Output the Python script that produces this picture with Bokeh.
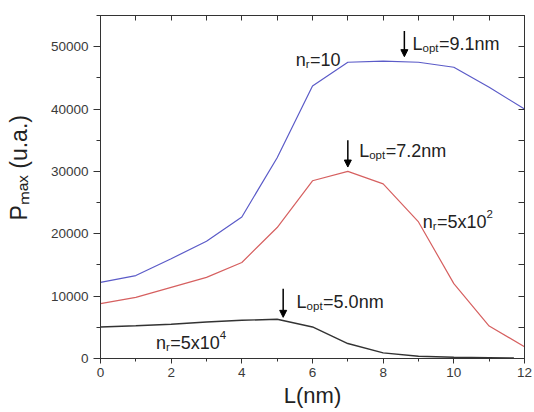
import math
from bokeh.plotting import figure
from bokeh.models import (Range1d, LinearAxis, SingleIntervalTicker, FixedTicker,
                          Label, Arrow, NormalHead)
from bokeh.embed import file_html
from bokeh.resources import INLINE

# ---------------- data ----------------
L_values = [0, 1, 2, 3, 4, 5, 6, 7, 8, 9, 10, 11, 12]
P_nr10 = [12200, 13300, 16000, 18800, 22700, 32200, 43700, 47500, 47700, 47500, 46700, 43500, 40000]
P_nr5e2 = [8800, 9800, 11400, 13000, 15400, 21000, 28500, 30000, 28000, 21900, 12000, 5200, 1900]
L_nr5e4 = [0, 1, 2, 3, 4, 5, 6, 7, 8, 9, 10, 11, 11.7]
P_nr5e4 = [5060, 5250, 5500, 5850, 6130, 6290, 5060, 2400, 900, 370, 200, 130, 100]

x_tick_labels = [0, 2, 4, 6, 8, 10, 12]
y_tick_labels = [0, 10000, 20000, 30000, 40000, 50000]
top_ticks = [0, 1, 2, 3, 4, 5, 6, 7, 8, 9, 10, 11, 12]
right_ticks = [0, 5000, 10000, 15000, 20000, 25000, 30000, 35000, 40000, 45000, 50000, 55000]

# optimum-length arrows (L, top, tip)
arrow_L = [8.6, 7.0, 5.17]
arrow_top = [52500, 35000, 11200]
arrow_tip = [48400, 30700, 6600]

FONT = "Liberation Sans"
W = {'n': .556, 'L': .556, 'r': .333, 'o': .556, 'p': .556, 't': .278, '=': .584,
     '.': .278, 'x': .5, 'm': .833, 'a': .556, 'u': .556, '(': .333, ')': .333,
     ' ': .278, 'P': .667}


def tw(s, size):
    return sum(W.get(c, .556) for c in s) * size


p = figure(width=534, height=412, output_backend="svg", toolbar_location=None,
           x_range=Range1d(0, 12), y_range=Range1d(0, 55000),
           min_border_left=100, min_border_right=10, min_border_top=15,
           min_border_bottom=54)
p.xgrid.visible = False
p.ygrid.visible = False
p.outline_line_color = "#333333"
p.outline_line_width = 1
p.background_fill_color = "white"
p.border_fill_color = "white"

xa = p.xaxis[0]
xa.ticker = SingleIntervalTicker(interval=2, num_minor_ticks=2)
xa.major_tick_out = 5
xa.major_tick_in = 0
xa.minor_tick_out = 3
xa.minor_tick_in = 0
ya = p.yaxis[0]
ya.ticker = SingleIntervalTicker(interval=10000, num_minor_ticks=2)
ya.major_tick_out = 7
ya.major_tick_in = 0
ya.minor_tick_out = 4
ya.minor_tick_in = 0
for ax in (xa, ya):
    ax.axis_line_color = "#333333"
    ax.major_tick_line_color = "#333333"
    ax.minor_tick_line_color = "#333333"
    ax.major_label_text_font = FONT
    ax.major_label_text_font_size = "13.5px"
    ax.major_label_text_color = "#3a3a3a"
    ax.axis_label_text_font = FONT
    ax.axis_label_text_font_style = "normal"
    ax.axis_label_text_color = "#222222"
xa.major_label_standoff = 4
ya.major_label_standoff = 5
xa.major_label_overrides = {v: str(v) for v in x_tick_labels}
ya.major_label_overrides = {v: str(v) for v in y_tick_labels}

xa.axis_label = "L(nm)"
xa.axis_label_text_font_size = "22px"
xa.axis_label_standoff = 3
ya.axis_label = "\u00a0" * 6 + "P\u2098\u2090\u2093 (u.a.)"
ya.axis_label_text_font_size = "23px"
ya.axis_label_standoff = 16

# top and right axes: inward ticks, no labels
top = LinearAxis(ticker=FixedTicker(ticks=top_ticks), major_tick_in=5, major_tick_out=0,
                 minor_tick_line_color=None,
                 major_label_overrides={t: "" for t in top_ticks},
                 axis_line_color="#333333", major_tick_line_color="#333333",
                 major_label_standoff=0)
right = LinearAxis(ticker=FixedTicker(ticks=right_ticks), major_tick_in=6,
                   major_tick_out=0, minor_tick_line_color=None,
                   major_label_overrides={t: "" for t in right_ticks},
                   axis_line_color="#333333",
                   major_tick_line_color="#333333", major_label_standoff=0)
p.add_layout(top, "above")
p.add_layout(right, "right")

# curves
p.line(L_values, P_nr10, line_color="#5b5bc8", line_width=1.2)
p.line(L_values, P_nr5e2, line_color="#d66060", line_width=1.2)
p.line(L_nr5e4, P_nr5e4, line_color="#333333", line_width=1.4)

# arrows
for xl, y0, y1 in zip(arrow_L, arrow_top, arrow_tip):
    p.add_layout(Arrow(end=NormalHead(size=7, fill_color="black", line_color="black"),
                       x_start=xl, y_start=y0, x_end=xl, y_end=y1,
                       line_color="black", line_width=1.5))

MAIN = 18
SUB = 11.5


def rich(x, y, pieces):
    off = 0.0
    for txt, kind in pieces:
        size = MAIN if kind == "n" else SUB
        yo = 0 if kind == "n" else (-4 if kind == "sub" else 8)
        p.add_layout(Label(x=x, y=y, x_offset=off, y_offset=yo, text=txt,
                           text_font=FONT, text_font_size=f"{size}px",
                           text_color="#222222", text_align="left",
                           text_baseline="alphabetic"))
        off += tw(txt, size) + (0.5 if kind == "sub" else 0)


rich(5.525, 47810, [("n", "n"), ("r", "sub"), ("=10", "n")])
rich(8.83, 50400, [("L", "n"), ("opt", "sub"), ("=9.1nm", "n")])
rich(7.32, 33330, [("L", "n"), ("opt", "sub"), ("=7.2nm", "n")])
rich(9.12, 21810, [("n", "n"), ("r", "sub"), ("=5x10", "n"), ("2", "sup")])
rich(5.55, 9060, [("L", "n"), ("opt", "sub"), ("=5.0nm", "n")])
rich(1.57, 2450, [("n", "n"), ("r", "sub"), ("=5x10", "n"), ("4", "sup")])

open("out.html", "w").write(file_html(p, INLINE))
